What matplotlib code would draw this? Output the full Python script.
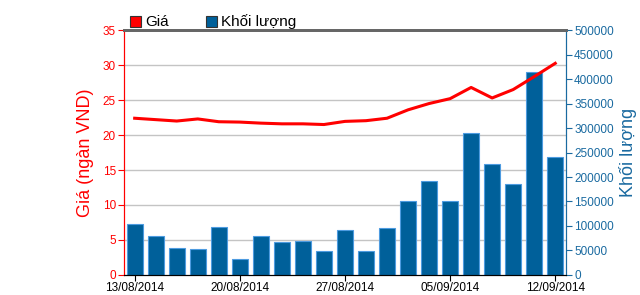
import matplotlib.pyplot as plt
from matplotlib.patches import Rectangle
import numpy as np

plt.rcParams['font.family'] = ['Liberation Sans', 'DejaVu Sans']

dates = ['13/08/2014', '14/08/2014', '15/08/2014', '18/08/2014', '19/08/2014',
         '20/08/2014', '21/08/2014', '22/08/2014', '25/08/2014', '26/08/2014',
         '27/08/2014', '28/08/2014', '29/08/2014', '03/09/2014', '04/09/2014',
         '05/09/2014', '08/09/2014', '09/09/2014', '10/09/2014', '11/09/2014',
         '12/09/2014']
price = [22.4, 22.2, 22.0, 22.3, 21.9, 21.85, 21.7, 21.6, 21.6, 21.5, 21.95,
         22.05, 22.4, 23.6, 24.5, 25.2, 26.8, 25.3, 26.5, 28.35, 30.25]
volume = [104000, 80000, 54000, 52000, 98000, 32500, 80000, 68000, 70000, 48000,
          92000, 48000, 96000, 152000, 192000, 150000, 289000, 226000, 186000,
          414000, 240000]
tick_idx = [0, 5, 10, 15, 20]

red = '#ff0000'
blue = '#1a6aa0'
bar_col = '#00609a'

fig = plt.figure(figsize=(6.4, 2.95), dpi=100)
ax = fig.add_axes([0.194, 0.068, 0.69, 0.83])
ax2 = ax.twinx()

x = np.arange(len(dates))
ax2.bar(x, volume, width=0.75, color=bar_col, edgecolor='#4d9be0', lw=0.8, zorder=2)
ax2.set_ylim(0, 500000)
ax2.set_yticks(np.arange(0, 500001, 50000))
ax2.tick_params(axis='y', colors=blue, labelsize=8.5, length=4, pad=2)
ax2.set_ylabel('Khối lượng', color=blue, fontsize=13, labelpad=4)

# price axis on top of bars
ax.set_zorder(ax2.get_zorder() + 1)
ax.patch.set_visible(False)
ax2.set_zorder(0)
ax.plot(x, price, color=red, lw=2.2, zorder=3)
ax.set_ylim(0, 35)
ax.set_yticks(np.arange(0, 36, 5))
ax.set_xlim(-0.5, 20.5)
ax.set_xticks(tick_idx)
ax.set_xticklabels([dates[i] for i in tick_idx])
ax.tick_params(axis='y', colors=red, labelsize=8.5, length=4, pad=2)
ax.tick_params(axis='x', labelsize=8.5, length=4, pad=1)
ax.set_ylabel('Giá (ngàn VND)', color=red, fontsize=13, labelpad=6)

# gridlines behind bars: draw on the bar axes
for g in np.arange(0, 500001, 50000)[::1]:
    pass
ax2.set_axisbelow(True)
ax2.yaxis.grid(False)
for v in np.arange(5, 36, 5):
    ax2.axhline(v / 35 * 500000, color='#c4c4c4', lw=1, zorder=1)

for a in (ax, ax2):
    a.spines['left'].set_color(red)
    a.spines['right'].set_color(blue)
    a.spines['top'].set_color('#666666')
    a.spines['top'].set_linewidth(2)
    a.spines['bottom'].set_color('black')

# legend above the plot
fig.patches.append(Rectangle((130 / 640, 1 - 27 / 295), 11 / 640, 11 / 295,
                             transform=fig.transFigure, facecolor=red,
                             edgecolor='#333333', lw=0.8))
fig.text(145 / 640, 1 - 21.5 / 295, 'Giá', fontsize=11, va='center')
fig.patches.append(Rectangle((206 / 640, 1 - 27 / 295), 11 / 640, 11 / 295,
                             transform=fig.transFigure, facecolor=bar_col,
                             edgecolor='#333333', lw=0.8))
fig.text(221 / 640, 1 - 21.5 / 295, 'Khối lượng', fontsize=11, va='center')

fig.savefig('out.png', dpi=100)
